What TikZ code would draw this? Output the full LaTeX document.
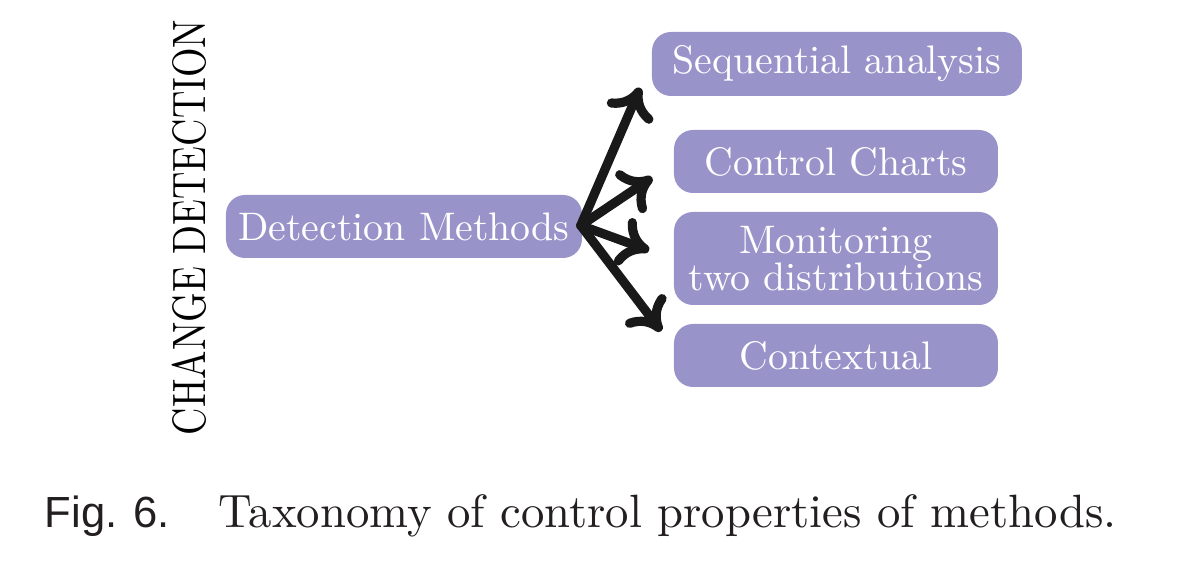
\documentclass[tikz,border=0pt]{standalone}
\usepackage{graphicx}
\usepackage{fontspec}
\newfontfamily\captionsans{Liberation Sans}
\usetikzlibrary{arrows.meta,bending,calc}
\definecolor{boxfill}{RGB}{152,148,202}
\definecolor{captext}{RGB}{35,31,32}
\begin{document}
% one unit = 0.25pt
\begin{tikzpicture}[x=0.25pt,y=-0.25pt,
  method/.style={fill=boxfill, rounded corners=4.75pt, text=white, inner sep=0pt,
    font=\fontsize{9.95}{9.3}\selectfont, align=center},
  link/.style={line width=2.3pt, black!90, line cap=round,
    -{Computer Modern Rightarrow[length=7.5pt, width=12.5pt, line cap=round]}}]
\useasboundingbox (0,0) rectangle (1182,564);

% vertical title
\node[rotate=90, font=\fontsize{10}{12}\selectfont, inner sep=0pt] (title) at (189,227.5)
  {\scalebox{0.948}[1.17]{CHANGE DETECTION}};

% root and the four method families
\node[method, minimum width=89pt, minimum height=15.75pt] (dm) at (404,226.5) {Detection Methods};
\node[method, minimum width=92.5pt, minimum height=16pt] (seq) at (837,64) {Sequential analysis};
\node[method, minimum width=81pt, minimum height=15.75pt] (cc) at (836,161.5) {Control Charts};
\node[method, minimum width=81pt, minimum height=23.25pt] (mon) at (836,258.5) {Monitoring\\two distributions};
\node[method, minimum width=81pt, minimum height=15.75pt] (ctx) at (836,355.5) {Contextual};

% connectors fanning out from the root
\coordinate (hub) at ($(dm.east)+(-2,-1)$);
\draw[link] (hub) -- ($(seq.south west)+(-11,-9)$);
\draw[link] (hub) -- ($(cc.west)+(-21,16)$);
\draw[link] (hub) -- ($(mon.west)+(-24,-8)$);
\draw[link] (hub) -- ($(ctx.north west)+(-12,8)$);

% caption
\node[anchor=base west, inner sep=0pt, text=captext, font=\captionsans\fontsize{10.9}{12}\selectfont] (fig) at (44,528) {Fig. 6.};
\node[anchor=base west, inner sep=0pt, text=captext, font=\fontsize{10}{12}\selectfont] (cap) at (218,528)
  {\scalebox{1.168}{Taxonomy of control properties of methods.}};
\end{tikzpicture}
\end{document}
